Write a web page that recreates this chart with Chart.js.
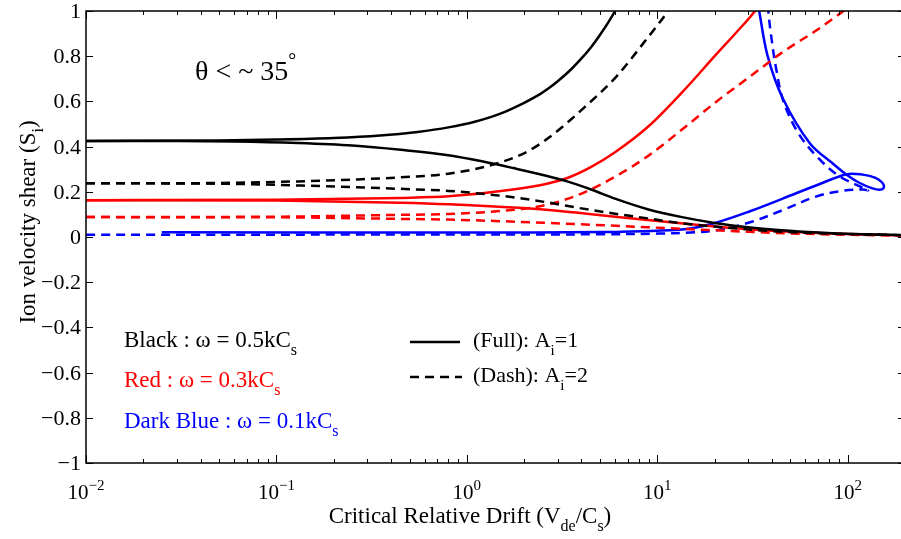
<!DOCTYPE html>
<html>
<head>
<meta charset="utf-8">
<script src="https://cdn.jsdelivr.net/npm/chart.js@4.4.1/dist/chart.umd.min.js"></script>
<style>
  html, body { margin: 0; padding: 0; background: #fff; overflow: hidden; }
  #wrap { width: 906px; height: 539px; position: relative; }
</style>
</head>
<body>
<div id="wrap"><canvas id="myChart"></canvas></div>
<script>
// x = critical relative drift (Vde/Cs), y = ion velocity shear (Si)
const blackFullUp = [[0.01,0.425],[0.05,0.427],[0.1,0.431],[0.2,0.438],[0.35,0.449],[0.55,0.465],[0.8,0.485],[1.1,0.51],[1.5,0.546],[2,0.594],[2.4,0.63],[2.7,0.659],[3,0.689],[3.5,0.739],[4,0.79],[4.5,0.841],[5,0.894],[5.5,0.946],[6,1.0],[6.6,1.07]];
const blackFullLow = [[0.01,0.425],[0.03,0.425],[0.06,0.423],[0.13,0.416],[0.25,0.405],[0.45,0.386],[0.8,0.362],[1.2,0.335],[1.75,0.305],[2.7,0.268],[3.4,0.245],[4.5,0.21],[6,0.17],[9,0.122],[13.5,0.088],[20,0.062],[30,0.043],[45,0.03],[70,0.02],[110,0.013],[200,0.008]];
const blackDashUp = [[0.01,0.238],[0.03,0.238],[0.06,0.24],[0.13,0.246],[0.25,0.254],[0.45,0.264],[0.8,0.28],[1.5,0.33],[2.1,0.38],[2.7,0.44],[4.1,0.57],[6.1,0.71],[8.5,0.86],[11.4,1.0],[12.5,1.05]];
const blackDashLow = [[0.01,0.238],[0.03,0.237],[0.06,0.235],[0.13,0.228],[0.25,0.221],[0.45,0.213],[0.8,0.204],[1.75,0.176],[2.7,0.152],[3.9,0.128],[6,0.103],[9,0.082],[13,0.062],[20,0.046],[40,0.026],[80,0.015],[200,0.008]];
const redFullUp = [[0.01,0.163],[0.1,0.165],[0.45,0.173],[0.8,0.18],[1.75,0.21],[2.7,0.238],[3.4,0.262],[4.5,0.31],[6,0.375],[9,0.49],[13.5,0.64],[20.5,0.81],[26,0.905],[32.6,1.0],[35,1.04]];
const redFullLow = [[0.01,0.163],[0.1,0.161],[0.45,0.152],[0.8,0.145],[2.7,0.12],[6,0.09],[13.7,0.06],[25,0.04],[50,0.023],[100,0.013],[200,0.007]];
const redDashUp = [[0.01,0.088],[0.1,0.09],[0.45,0.098],[0.8,0.102],[1.5,0.115],[2.2,0.13],[3,0.155],[4.2,0.2],[6.1,0.27],[9,0.36],[13.7,0.48],[20.5,0.6],[30.7,0.71],[45.9,0.82],[68.7,0.915],[95,1.0],[110,1.04]];
const redDashLow = [[0.01,0.088],[0.1,0.087],[0.45,0.08],[0.8,0.077],[2.7,0.062],[13.7,0.036],[30,0.023],[60,0.014],[200,0.006]];
const blueFull = [[0.025,0.021],[1,0.02],[5,0.022],[10,0.028],[14.9,0.038],[20.5,0.064],[30.7,0.114],[45.9,0.171],[68.7,0.229],[98.8,0.278],[120,0.276],[140,0.262],[152,0.24],[155,0.222],[150,0.21],[135,0.215],[115,0.24],[100,0.272],[85,0.32],[63.4,0.414],[45.6,0.614],[38,0.8],[34.3,1.0],[33.5,1.05]];
const blueDash = [[0.01,0.01],[1,0.011],[5,0.012],[10,0.015],[15,0.02],[20.5,0.03],[30.7,0.065],[45.9,0.12],[68.7,0.18],[95,0.205],[120,0.21],[128,0.207],[115,0.225],[90,0.27],[70,0.35],[55,0.46],[46,0.6],[42,0.75],[39.5,0.9],[38.3,1.0],[38,1.05]];

const yTicks = [-1, -0.8, -0.6, -0.4, -0.2, 0, 0.2, 0.4, 0.6, 0.8, 1];
const xExps = [-2, -1, 0, 1, 2];

const FONT = "'Liberation Serif', 'Times New Roman', serif";

function pts(arr) {
  return arr.map(p => ({ x: p[0], y: p[1] }));
}

function line(arr, color, dashed, loop) {
  const ds = {
    data: pts(arr),
    borderColor: color,
    borderWidth: 2.5,
    borderDash: dashed ? [9, 6] : [],
    pointRadius: 0,
    showLine: true,
    fill: false,
  };
  if (loop) {
    ds.tension = 0.35;
  } else {
    ds.cubicInterpolationMode = "monotone";
  }
  return ds;
}

function setFont(ctx, size) {
  ctx.font = size + "px " + FONT;
}

// parts: [text, mode] with mode "", "sub" or "sup"
function richWidth(ctx, parts, size) {
  let w = 0;
  parts.forEach(([t, m]) => {
    setFont(ctx, m ? Math.round(size * 0.7) : size);
    w += ctx.measureText(t).width;
  });
  return w;
}

function drawRich(ctx, parts, x, y, size, color) {
  ctx.fillStyle = color;
  ctx.textBaseline = "alphabetic";
  ctx.textAlign = "left";
  parts.forEach(([t, m]) => {
    const s = m ? Math.round(size * 0.7) : size;
    setFont(ctx, s);
    let dy = 0;
    if (m === "sub") dy = size * 0.35;
    if (m === "sup") dy = -size * 0.45;
    ctx.fillText(t, x, y + dy);
    x += ctx.measureText(t).width;
  });
}

const decorPlugin = {
  id: "decor",
  afterDraw(chart) {
    const ctx = chart.ctx;
    const area = chart.chartArea;
    const xs = chart.scales.x;
    const ys = chart.scales.y;
    ctx.save();
    ctx.strokeStyle = "#000";
    ctx.lineWidth = 1.5;
    ctx.strokeRect(area.left, area.top, area.right - area.left, area.bottom - area.top);

    // y ticks and labels
    ctx.lineWidth = 1;
    yTicks.forEach(v => {
      const py = Math.round(ys.getPixelForValue(v)) + 0.5;
      ctx.beginPath();
      ctx.moveTo(area.left, py); ctx.lineTo(area.left + 7, py);
      ctx.moveTo(area.right, py); ctx.lineTo(area.right - 7, py);
      ctx.stroke();
      setFont(ctx, 22);
      ctx.fillStyle = "#000";
      ctx.textAlign = "right";
      ctx.textBaseline = "middle";
      const txt = v === 0 ? "0" : (v < 0 ? "\u2212" : "") + String(Math.abs(v));
      ctx.fillText(txt, area.left - 5, py + 1);
    });

    // x ticks (major + minor) and labels
    xExps.forEach(e => {
      for (let k = 1; k <= 9; k++) {
        const v = k * Math.pow(10, e);
        if (v < xs.min || v > xs.max) continue;
        const px = Math.round(xs.getPixelForValue(v)) + 0.5;
        const len = k === 1 ? 8 : 4;
        ctx.beginPath();
        ctx.moveTo(px, area.bottom); ctx.lineTo(px, area.bottom - len);
        ctx.moveTo(px, area.top); ctx.lineTo(px, area.top + len);
        ctx.stroke();
      }
      const px = xs.getPixelForValue(Math.pow(10, e));
      const parts = [["10", ""], [e < 0 ? "\u2212" + Math.abs(e) : String(e), "sup"]];
      const w = richWidth(ctx, parts, 21);
      drawRich(ctx, parts, px - w / 2, area.bottom + 36, 21, "#000");
    });

    // axis titles
    const xt = [["Critical Relative Drift (V", ""], ["de", "sub"], ["/C", ""], ["s", "sub"], [")", ""]];
    const xw = richWidth(ctx, xt, 23);
    drawRich(ctx, xt, 470 - xw / 2, 523, 23, "#000");

    const yt = [["Ion velocity shear (S", ""], ["i", "sub"], [")", ""]];
    const yw = richWidth(ctx, yt, 23);
    ctx.save();
    ctx.translate(35, 222);
    ctx.rotate(-Math.PI / 2);
    drawRich(ctx, yt, -yw / 2, 0, 23, "#000");
    ctx.restore();

    // annotations
    drawRich(ctx, [["\u03b8 < ~ 35", ""], ["\u00b0", "sup"]], 195, 80, 28, "#000");

    drawRich(ctx, [["Black : \u03c9 = 0.5kC", ""], ["s", "sub"]], 124, 347, 23, "#000");
    drawRich(ctx, [["Red : \u03c9 = 0.3kC", ""], ["s", "sub"]], 124, 387, 23, "#ff0000");
    drawRich(ctx, [["Dark Blue : \u03c9 = 0.1kC", ""], ["s", "sub"]], 124, 428, 23, "#0000ff");

    ctx.strokeStyle = "#000";
    ctx.lineWidth = 2.5;
    ctx.beginPath();
    ctx.moveTo(410, 342); ctx.lineTo(460, 342);
    ctx.stroke();
    ctx.setLineDash([9, 6]);
    ctx.beginPath();
    ctx.moveTo(410, 377); ctx.lineTo(462, 377);
    ctx.stroke();
    ctx.setLineDash([]);
    drawRich(ctx, [["(Full): A", ""], ["i", "sub"], ["=1", ""]], 473, 347, 22, "#000");
    drawRich(ctx, [["(Dash): A", ""], ["i", "sub"], ["=2", ""]], 473, 382, 22, "#000");
    ctx.restore();
  },
};

const ctx = document.getElementById("myChart");
new Chart(ctx, {
  type: "scatter",
  data: {
    datasets: [
      line(blackFullUp, "#000000", false),
      line(blackFullLow, "#000000", false),
      line(blackDashUp, "#000000", true),
      line(blackDashLow, "#000000", true),
      line(redFullUp, "#ff0000", false),
      line(redFullLow, "#ff0000", false),
      line(redDashUp, "#ff0000", true),
      line(redDashLow, "#ff0000", true),
      line(blueFull, "#0000ff", false, true),
      line(blueDash, "#0000ff", true, true),
    ],
  },
  options: {
    responsive: true,
    maintainAspectRatio: false,
    animation: false,
    devicePixelRatio: 1,
    layout: { padding: { left: 86, top: 11, right: 1, bottom: 76 } },
    plugins: { legend: { display: false }, tooltip: { enabled: false } },
    scales: {
      x: { type: "logarithmic", min: 0.01, max: 200, display: false },
      y: { type: "linear", min: -1, max: 1, display: false },
    },
  },
  plugins: [decorPlugin],
});
</script>
</body>
</html>
